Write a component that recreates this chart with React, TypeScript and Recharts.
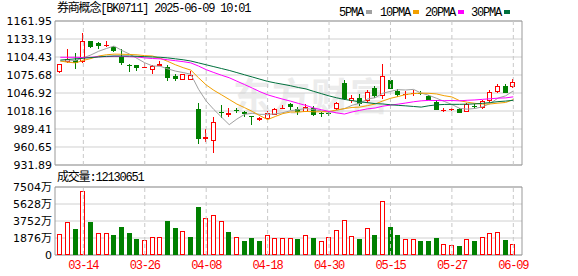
import { ComposedChart, Bar, Line, XAxis, YAxis, CartesianGrid, ReferenceLine, ReferenceArea } from 'recharts';

const dates = [
  '03-11', '03-12', '03-13', '03-14', '03-17', '03-18', '03-19', '03-20', '03-21', '03-24',
  '03-25', '03-26', '03-27', '03-28', '03-31', '04-01', '04-02', '04-03', '04-07', '04-08',
  '04-09', '04-10', '04-11', '04-14', '04-15', '04-16', '04-17', '04-18', '04-21', '04-22',
  '04-23', '04-24', '04-25', '04-28', '04-29', '04-30', '05-06', '05-07', '05-08', '05-09',
  '05-12', '05-13', '05-14', '05-15', '05-16', '05-19', '05-20', '05-21', '05-22', '05-23',
  '05-26', '05-27', '05-28', '05-29', '05-30', '06-03', '06-04', '06-05', '06-06', '06-09',
];
const opens = [
  1080, 1097, 1099.2, 1096, 1129.5, 1126.3, 1121.5, 1120.4, 1104, 1092,
  1091, 1087.5, 1084, 1090, 1089, 1074, 1067.7, 1067.7, 1020.9, 974,
  970.7, 1017, 1012, 1019.5, 1016, 1010.2, 1003, 1005.4, 1012, 1021.4,
  1029.8, 1020.9, 1017, 1022.5, 1014.5, 1014.8, 1020.9, 1062.4, 1034.6, 1039.4,
  1034.6, 1055.4, 1041.6, 1067.7, 1050.6, 1044.7, 1045.5, 1047.5, 1042.6, 1032,
  1019.8, 1020.5, 1021.4, 1017, 1026.5, 1022.5, 1033.6, 1049, 1058, 1057,
];
const highs = [
  1094, 1117, 1110.8, 1142.8, 1130.5, 1128, 1129.5, 1122.5, 1116.7, 1093.3,
  1092, 1095, 1092, 1098, 1092, 1076.8, 1077, 1082, 1031.4, 988.9,
  1008, 1027.7, 1022.5, 1023, 1018, 1010.8, 1008, 1018.6, 1023, 1027.8,
  1031, 1024, 1030, 1025.6, 1016, 1016.5, 1032, 1067, 1043.7, 1044.8,
  1051.7, 1058.6, 1093.6, 1071.7, 1053, 1050, 1051, 1049.5, 1044, 1036,
  1022.5, 1023, 1022.5, 1030.5, 1030, 1036, 1051.7, 1061.3, 1061.3, 1069.3,
];
const lows = [
  1079, 1095, 1085.7, 1095, 1119.5, 1117.7, 1120, 1112.4, 1092.2, 1080,
  1081.6, 1086.5, 1077.8, 1089.5, 1066.6, 1066.6, 1067, 1067, 965.4, 969.1,
  951.6, 1006.5, 1008, 1015, 1008.5, 995.8, 1002, 1003, 1011, 1021,
  1019.3, 1011.8, 1016, 1009.7, 1009, 1010.5, 1019, 1035.7, 1030.5, 1026.6,
  1031.4, 1038.4, 1037.3, 1053, 1041, 1038, 1042.6, 1044, 1035, 1019,
  1016, 1018, 1014.5, 1016.5, 1021, 1022, 1033, 1047.5, 1046.5, 1055.4,
];
const closes = [
  1093, 1101, 1095.3, 1129.5, 1120.4, 1122, 1123, 1114.5, 1095.3, 1091,
  1087, 1088, 1089.5, 1092.8, 1070.4, 1068.8, 1076.5, 1076, 973.4, 976,
  1000.6, 1016, 1015.5, 1018.5, 1013.5, 1009, 1007.3, 1015.5, 1022, 1023.5,
  1024.5, 1015.8, 1025, 1012.5, 1013.5, 1014, 1031.4, 1038, 1039.5, 1029.3,
  1048, 1041.6, 1074.6, 1053.8, 1043, 1045.5, 1046.5, 1045, 1036.2, 1019.5,
  1020.5, 1021.5, 1015, 1028.9, 1025, 1034.1, 1048, 1058, 1047, 1064.5,
];
// volume in 万
const volumes = [
  2284, 3604, 2869, 7062, 3642, 2391, 2391, 2207, 3090, 2428,
  1766, 1618, 1950, 1950, 3752, 2980, 2611, 1986, 5297, 4046,
  4377, 3715, 2538, 2023, 1545, 1876, 1545, 2170, 1876, 1876,
  1876, 1766, 2170, 1876, 1508, 1986, 2759, 3862, 2133, 1802,
  2980, 2207, 5959, 3090, 2207, 1766, 1766, 1545, 1545, 1876,
  1214, 1104, 993, 1766, 1545, 1986, 2391, 2538, 1655, 1214,
];
const ma5 = [
  1098, 1098, 1099, 1103, 1107.8, 1113.6, 1118, 1121.9, 1115, 1109.2,
  1102.2, 1095.2, 1090.2, 1089.7, 1085.5, 1081.9, 1079.6, 1076.9, 1053, 1034.1,
  1020.5, 1008.4, 996.3, 1005.3, 1012.8, 1014.5, 1012.8, 1012.8, 1013.5, 1015.5,
  1018.6, 1020.3, 1022.2, 1020.3, 1018.3, 1016.2, 1019.3, 1021.9, 1027.3, 1030.4,
  1037.2, 1039.3, 1046.6, 1049.5, 1052.2, 1051.7, 1052.7, 1046.8, 1043.2, 1038.5,
  1033.5, 1028.5, 1022.5, 1021.1, 1022.2, 1024.9, 1030.2, 1038.8, 1042.4, 1050.3,
];
const ma10 = [
  1098, 1096, 1095, 1099, 1102, 1106, 1108, 1109, 1108.8, 1108.5,
  1107.9, 1106.6, 1106, 1102.4, 1097.4, 1092, 1087.4, 1083.5, 1071.3, 1059.8,
  1051.2, 1044, 1036.6, 1029.2, 1023.5, 1017.5, 1010.6, 1004.5, 1009.4, 1014.1,
  1016.5, 1016.5, 1017.5, 1016.9, 1016.9, 1017.4, 1019.8, 1022, 1023.8, 1024.4,
  1026.7, 1029.3, 1034.2, 1038.4, 1041.3, 1044.5, 1046, 1046.7, 1046.4, 1045.4,
  1042.6, 1040.6, 1034.7, 1032.2, 1030.4, 1029.2, 1029.4, 1030.7, 1031.8, 1036.3,
];
const ma20 = [
  1104, 1104, 1104, 1103.5, 1104, 1105, 1105, 1105.5, 1105.5, 1105,
  1104.5, 1103, 1102, 1101.5, 1100, 1098.5, 1097, 1095, 1090, 1084.2,
  1079.6, 1075.3, 1071.3, 1065.8, 1060.4, 1054.8, 1049, 1044, 1040.4, 1037,
  1033.9, 1030.3, 1027, 1023, 1020.2, 1017.4, 1015.2, 1013.3, 1016.6, 1019.2,
  1021.6, 1022.9, 1025.9, 1027.6, 1029.1, 1030.9, 1032.9, 1034.4, 1035.1, 1034.9,
  1034.7, 1034.9, 1034.4, 1035.3, 1035.8, 1036.8, 1037.7, 1038.7, 1039.1, 1040.8,
];
const ma30 = [
  1099.5, 1100.5, 1101.5, 1102.5, 1103.5, 1104.5, 1105.5, 1106, 1106, 1106,
  1105.5, 1105, 1104.5, 1104, 1103, 1101.5, 1100, 1098, 1095, 1092,
  1089, 1086, 1083, 1079.5, 1076, 1072.5, 1069, 1065.5, 1063, 1060.8,
  1058.5, 1055.7, 1053.4, 1049.5, 1045.9, 1042.3, 1039.2, 1036.7, 1034.8, 1032.8,
  1031.5, 1029.9, 1029.4, 1028.1, 1027.2, 1026.4, 1025.4, 1024.4, 1026.5, 1028,
  1028.6, 1028.8, 1028.8, 1029.1, 1029.5, 1030.4, 1031.7, 1033.1, 1034, 1035.3,
];
const priceTicks = [931.89, 960.65, 989.41, 1018.16, 1046.92, 1075.68, 1104.43, 1133.19, 1161.95];
const volTicks = [0, 1876, 3752, 5628, 7504];
const labelIdx = [3, 11, 19, 27, 35, 43, 51, 59];

const RED = '#ff0000';
const GREEN = '#008000';
const MA_COLORS = { ma5: '#a0a0a0', ma10: '#f2a000', ma20: '#ff00ff', ma30: '#00703c' };
const X_DOMAIN: [number, number] = [-0.69, 60.13];
const MONO = '"Liberation Mono", "Noto Sans CJK SC", monospace';

const rows = dates.map((d, i) => ({
  i,
  date: d,
  open: opens[i],
  high: highs[i],
  low: lows[i],
  close: closes[i],
  range: [lows[i], highs[i]],
  vol: volumes[i],
  up: i === 0 ? closes[i] >= opens[i] : closes[i] >= closes[i - 1],
  ma5: ma5[i],
  ma10: ma10[i],
  ma20: ma20[i],
  ma30: ma30[i],
}));

const Candle = (props: any) => {
  const { x, y, width, height, payload } = props;
  if (!payload) return null;
  const { open, close, high, low } = payload;
  const top0 = Math.min(y, y + height);
  const k = Math.abs(height) / (high - low);
  const py = (v: number) => top0 + (high - v) * k;
  const left = Math.round(x + width / 2 - 2.5);
  const cx = left + 2.5;
  const hi = Math.round(py(high));
  const lo = Math.round(py(low));
  const bTop = Math.round(py(Math.max(open, close)));
  const bBot = Math.round(py(Math.min(open, close)));
  if (close >= open) {
    const hh = bBot - bTop;
    return (
      <g shapeRendering="crispEdges">
        <line x1={cx} x2={cx} y1={hi} y2={bTop} stroke={RED} />
        <line x1={cx} x2={cx} y1={bBot} y2={lo} stroke={RED} />
        {hh < 2 ? (
          <line x1={left} x2={left + 5} y1={bTop + 0.5} y2={bTop + 0.5} stroke={RED} />
        ) : (
          <rect x={left + 0.5} y={bTop + 0.5} width={4} height={hh - 1} fill="#fff" stroke={RED} />
        )}
      </g>
    );
  }
  return (
    <g shapeRendering="crispEdges">
      <line x1={cx} x2={cx} y1={hi} y2={lo} stroke={GREEN} />
      <rect x={left} y={bTop} width={5} height={Math.max(1, bBot - bTop)} fill={GREEN} />
    </g>
  );
};

const VolBar = (props: any) => {
  const { x, y, width, height, payload } = props;
  if (!payload) return null;
  const left = Math.round(x + width / 2 - 2.5);
  const top = Math.round(Math.min(y, y + height));
  const bottom = Math.round(Math.max(y, y + height));
  if (payload.up) {
    return (
      <rect x={left + 0.5} y={top + 0.5} width={4} height={Math.max(0, bottom - top - 1)}
        fill="#fff" stroke={RED} shapeRendering="crispEdges" />
    );
  }
  return <rect x={left} y={top} width={5} height={bottom - top} fill={GREEN} shapeRendering="crispEdges" />;
};

const axisTick = { fontSize: 11, fill: '#000', fontFamily: '"DejaVu Sans", "Noto Sans CJK SC", sans-serif' };

const legend = [
  { name: '5PMA', key: 'ma5', x: 339 },
  { name: '10PMA', key: 'ma10', x: 380 },
  { name: '20PMA', key: 'ma20', x: 425 },
  { name: '30PMA', key: 'ma30', x: 471 },
];

const App = () => {
  return (
    <div style={{ position: 'fixed', left: 0, top: 0, width: 578, height: 276, background: '#fff', overflow: 'hidden' }}>
      <div style={{
        position: 'absolute', left: 233, top: 66, fontSize: 38, fontWeight: 700, color: '#ececec',
        fontFamily: '"Noto Sans CJK SC", sans-serif', letterSpacing: 1, whiteSpace: 'nowrap',
      }}>东方财富</div>
      <div style={{
        position: 'absolute', left: 57, top: 2, fontSize: 12, lineHeight: '14px', fontFamily: MONO,
        letterSpacing: -1.2, color: '#000', whiteSpace: 'nowrap',
      }}>券商概念[BK0711] 2025-06-09 10:01</div>
      {legend.map((l) => (
        <div key={l.key} style={{ position: 'absolute', left: l.x, top: 2, height: 14, whiteSpace: 'nowrap' }}>
          <span style={{ fontSize: 12, lineHeight: '14px', fontFamily: MONO, letterSpacing: -1.2, color: '#000' }}>{l.name}</span>
          <span style={{
            display: 'inline-block', width: 6, height: 4, marginLeft: 3, verticalAlign: 'middle',
            background: (MA_COLORS as any)[l.key],
          }} />
        </div>
      ))}
      <div style={{ position: 'absolute', left: 57, top: 171, fontSize: 12, lineHeight: '14px', fontFamily: MONO, letterSpacing: -1.2, color: '#000', whiteSpace: 'nowrap' }}>成交量:12130651</div>
      <div style={{ position: 'absolute', left: 0, top: 170 }}>
        <ComposedChart width={578} height={106} data={rows} margin={{ top: 17, right: 56, bottom: 0, left: 0 }}>
          <CartesianGrid vertical={false} stroke="#d0d0d0" />
          <XAxis
            type="number"
            dataKey="i"
            domain={X_DOMAIN}
            ticks={labelIdx}
            interval={0}
            height={21}
            allowDataOverflow
            axisLine={false}
            tickLine={false}
            tickSize={0}
            tickMargin={5}
            tick={{ fontSize: 12, fill: RED, fontFamily: MONO, letterSpacing: -1.2 }}
            tickFormatter={(v: number) => dates[v]}
          />
          <YAxis
            type="number"
            domain={[0, 7504]}
            ticks={volTicks}
            interval={0}
            width={55}
            allowDataOverflow
            axisLine={false}
            tickLine={false}
            tickSize={0}
            tickMargin={3}
            tick={axisTick}
            tickFormatter={(v: number) => (v === 0 ? '0' : `${v}万`)}
          />
          {labelIdx.map((idx) => (
            <ReferenceLine key={idx} x={idx} stroke="#c8c8c8" strokeDasharray="4 3" />
          ))}
          <ReferenceArea x1={X_DOMAIN[0]} x2={X_DOMAIN[1]} y1={0} y2={7504} fill="none" stroke="#999" />
          <Bar dataKey="vol" barSize={5} shape={(p: any) => <VolBar {...p} />} isAnimationActive={false} />
        </ComposedChart>
      </div>
      <div style={{ position: 'absolute', left: 0, top: 0 }}>
        <ComposedChart width={578} height={176} data={rows} margin={{ top: 21, right: 56, bottom: 11, left: 0 }}>
          <CartesianGrid vertical={false} stroke="#d0d0d0" />
          <XAxis type="number" dataKey="i" domain={X_DOMAIN} hide allowDataOverflow />
          <YAxis
            type="number"
            domain={[931.89, 1161.95]}
            ticks={priceTicks}
            interval={0}
            width={55}
            allowDataOverflow
            axisLine={false}
            tickLine={false}
            tickSize={0}
            tickMargin={3}
            tick={axisTick}
            tickFormatter={(v: number) => v.toFixed(2)}
          />
          {labelIdx.map((idx) => (
            <ReferenceLine key={idx} x={idx} stroke="#c8c8c8" strokeDasharray="4 3" />
          ))}
          <ReferenceArea x1={X_DOMAIN[0]} x2={X_DOMAIN[1]} y1={931.89} y2={1161.95} fill="none" stroke="#999" />
          <Bar dataKey="range" barSize={5} shape={(p: any) => <Candle {...p} />} isAnimationActive={false} />
          <Line dataKey="ma5" stroke={MA_COLORS.ma5} strokeWidth={1} dot={false} isAnimationActive={false} />
          <Line dataKey="ma10" stroke={MA_COLORS.ma10} strokeWidth={1} dot={false} isAnimationActive={false} />
          <Line dataKey="ma20" stroke={MA_COLORS.ma20} strokeWidth={1} dot={false} isAnimationActive={false} />
          <Line dataKey="ma30" stroke={MA_COLORS.ma30} strokeWidth={1} dot={false} isAnimationActive={false} />
        </ComposedChart>
      </div>
    </div>
  );
};

export default App;
